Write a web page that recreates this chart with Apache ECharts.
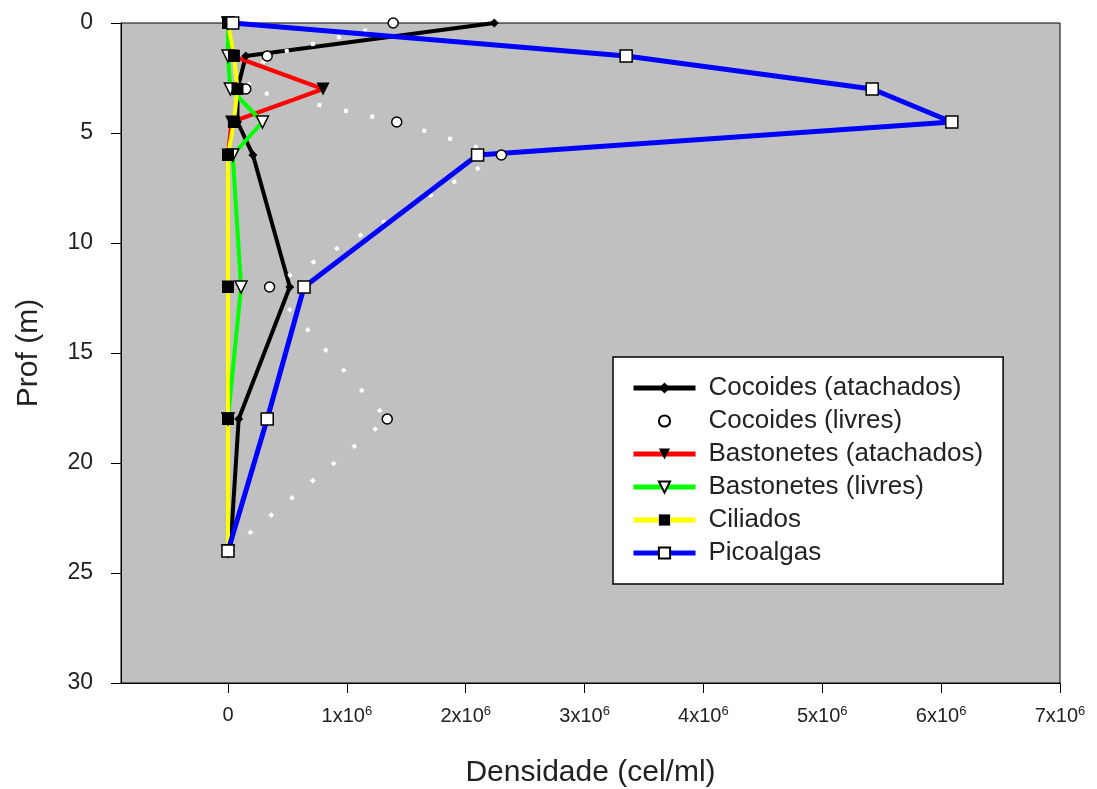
<!DOCTYPE html>
<html>
<head>
<meta charset="utf-8">
<script src="https://cdn.jsdelivr.net/npm/echarts@6/dist/echarts.min.js"></script>
<style>html,body{margin:0;padding:0;background:#fff;}#c{width:1097px;height:789px;}</style>
</head>
<body>
<div id="c"></div>
<script>
const depth = [0, 1.5, 3, 4.5, 6, 12, 18, 24];
const cocoidesAtachados = [2240000, 150000, 80000, 80000, 210000, 520000, 90000, 20000];
const cocoidesLivres = [1390000, 330000, 150000, 1420000, 2300000, 350000, 1340000, 0];
const bastonetesAtachados = [0, 40000, 800000, 30000, 0, 0, 0, 0];
const bastonetesLivres = [0, 0, 20000, 290000, 40000, 110000, 0, 0];
const ciliados = [0, 50000, 80000, 50000, 0, 0, 0, 0];
const picoalgas = [40000, 3350000, 5420000, 6090000, 2100000, 640000, 330000, 0];
const xTicks = [0, 1000000, 2000000, 3000000, 4000000, 5000000, 6000000, 7000000];
const seriesNames = ['Cocoides (atachados)', 'Cocoides (livres)', 'Bastonetes (atachados)', 'Bastonetes (livres)', 'Ciliados', 'Picoalgas'];

const pair = arr => arr.map((v, i) => [v, depth[i]]);
const font = '"Liberation Sans", Arial, sans-serif';

const chart = echarts.init(document.getElementById('c'), null, {renderer: 'canvas'});
chart.setOption({
  animation: false,
  backgroundColor: '#fff',
  grid: {left: 121, top: 23, right: 37, bottom: 106, containLabel: false, outerBoundsMode: 'none',
         show: true, backgroundColor: '#c0c0c0', borderColor: '#000', borderWidth: 1},
  legend: {
    orient: 'vertical', left: 613, top: 357,
    backgroundColor: '#fff', borderColor: '#000', borderWidth: 1.5,
    padding: [18, 20, 18, 18],
    itemWidth: 62, itemHeight: 14, itemGap: 7,
    lineStyle: {width: 5},
    textStyle: {fontFamily: font, fontSize: 26, color: '#222', lineHeight: 26, padding: [0, 0, 0, 8]},
    data: seriesNames
  },
  xAxis: {
    type: 'value', min: -900000, max: 7000000,
    name: 'Densidade (cel/ml)', nameLocation: 'middle', nameGap: 75,
    nameTextStyle: {fontFamily: font, fontSize: 30, color: '#222'},
    axisLine: {show: true, onZero: false, lineStyle: {color: '#000', width: 1}},
    axisTick: {show: true, inside: false, length: 10, lineStyle: {color: '#000'}, customValues: xTicks},
    splitLine: {show: false},
    axisLabel: {
      customValues: xTicks, margin: 22, color: '#222', fontFamily: font, fontSize: 20,
      formatter: v => v === 0 ? '{a|0}' : '{a|' + Math.round(v / 1e6) + 'x10}{s|6}',
      rich: {a: {fontFamily: font, fontSize: 20, color: '#222'}, s: {fontFamily: font, fontSize: 13, color: '#222', padding: [0, 0, 9, 0]}}
    }
  },
  yAxis: {
    type: 'value', min: 0, max: 30, interval: 5, inverse: true,
    name: 'Prof (m)', nameLocation: 'middle', nameGap: 77, nameRotate: 90,
    nameTextStyle: {fontFamily: font, fontSize: 30, color: '#222'},
    axisLine: {show: true, onZero: false, lineStyle: {color: '#000', width: 1}},
    axisTick: {show: true, inside: false, length: 10, lineStyle: {color: '#000'}},
    splitLine: {show: false},
    axisLabel: {margin: 28, color: '#222', fontFamily: font, fontSize: 23}
  },
  series: [
    {name: seriesNames[0], type: 'line', data: pair(cocoidesAtachados), symbol: 'diamond', symbolSize: 9,
     itemStyle: {color: '#000'}, lineStyle: {color: '#000', width: 4}},
    {name: seriesNames[1], type: 'line', data: pair(cocoidesLivres), symbol: 'circle', symbolSize: 10,
     itemStyle: {color: '#fff', borderColor: '#000', borderWidth: 1.5}, lineStyle: {color: '#fff', width: 4, type: [4, 23]}},
    {name: seriesNames[2], type: 'line', data: pair(bastonetesAtachados), symbol: 'triangle', symbolRotate: 180, symbolSize: 13,
     itemStyle: {color: '#000'}, lineStyle: {color: '#ff0000', width: 4}},
    {name: seriesNames[3], type: 'line', data: pair(bastonetesLivres), symbol: 'triangle', symbolRotate: 180, symbolSize: 12,
     itemStyle: {color: '#fff', borderColor: '#000', borderWidth: 1.5}, lineStyle: {color: '#00ff00', width: 4}},
    {name: seriesNames[4], type: 'line', data: pair(ciliados), symbol: 'rect', symbolSize: 12,
     itemStyle: {color: '#000'}, lineStyle: {color: '#ffff00', width: 4}},
    {name: seriesNames[5], type: 'line', data: pair(picoalgas), symbol: 'rect', symbolSize: 12,
     itemStyle: {color: '#fff', borderColor: '#000', borderWidth: 1.5}, lineStyle: {color: '#0000ff', width: 5}}
  ]
});
</script>
</body>
</html>
